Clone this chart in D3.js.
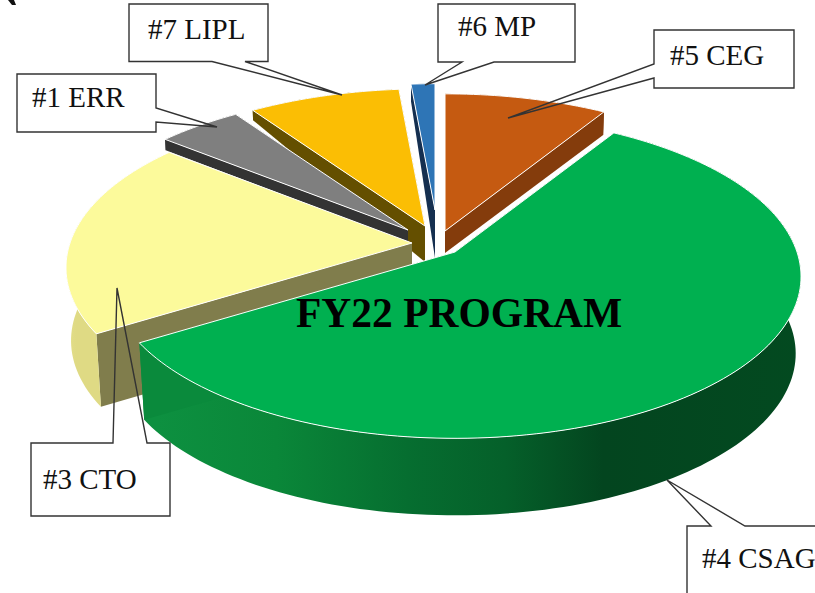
<!DOCTYPE html>
<html>
<head>
<meta charset="utf-8">
<script src="https://cdn.jsdelivr.net/npm/d3@7"></script>
<style>
  html, body { margin: 0; padding: 0; background: #fff; }
  svg { display: block; }
  text { font-family: "Liberation Serif", serif; fill: #111; }
</style>
</head>
<body>
<svg id="chart"></svg>
<script>
// share of the FY22 program, clockwise from 12 o'clock
const programs = ["#5 CEG", "#4 CSAG", "#3 CTO", "#1 ERR", "#7 LIPL", "#6 MP"];
const shares = [8.8, 57.4, 19.7, 4.6, 8.2, 1.4];

const WIDTH = 815;
const HEIGHT = 593;

// projection of the pie disc
const CENTER_X = 442;
const CENTER_Y = 241;
const RADIUS_X = 342;
const RADIUS_Y = 158;
const TILT = 0.152;

// per slice look, same order as programs
const topColors = ["#c55a11", "#00b050", "#fcfa9b", "#7f7f7f", "#fbbe04", "#2e75b6"];
const wallColors = ["#843c0c", "#0a8a3c", "#807d4c", "#333333", "#644f00", "#152f50"];
const rimColors = ["#843c0c", "url(#greenRim)", "url(#yellowRim)", "#333333", "#644f00", "#152f50"];
const shiftX = [3, 13, -30, -34, -17, -7];
const shiftY = [-10, 11, 2, -11, -15, -31];
const radiusScale = [1, 1, 1, 1, 1, 0.91];
const depthOuter = [23, 77, 73, 11, 10, 18];
const depthInner = [22, 77, 73, 12, 36, 48];
const drawOrder = [0, 5, 4, 3, 2, 1];

const calloutPaths = [
    "M17,74H156V108L217,127L156,122V132H17Z",
    "M129,4H268V61.5H245L342,95L212,61.5H129Z",
    "M438,4H575V62H494L425,85L462,62H438Z",
    "M654,30H794V88H654V78L508,118L654,64Z",
    "M31,443H113L117,288L147,443H170V516H31Z",
    "M687,526H711L667,480L745,526H830V610H687Z"
];
const labelX = [670, 702, 43, 32, 148, 458];
const labelY = [65, 568, 489, 107, 39, 36];

const svg = d3.select("#chart").attr("width", WIDTH).attr("height", HEIGHT);

const defs = svg.append("defs");
const greenRim = defs.append("linearGradient")
    .attr("id", "greenRim")
    .attr("gradientUnits", "userSpaceOnUse")
    .attr("x1", 145).attr("x2", 800).attr("y1", 0).attr("y2", 0);
[[0, "#0d9040"], [0.18, "#0a8739"], [0.38, "#066e30"], [0.53, "#05602a"], [0.68, "#03451f"], [1, "#034a20"]]
    .forEach(s => greenRim.append("stop").attr("offset", s[0]).attr("stop-color", s[1]));
const yellowRim = defs.append("linearGradient")
    .attr("id", "yellowRim")
    .attr("gradientUnits", "userSpaceOnUse")
    .attr("x1", 68).attr("x2", 106).attr("y1", 0).attr("y2", 0);
[[0, "#f3ef9c"], [1, "#dfda84"]]
    .forEach(s => yellowRim.append("stop").attr("offset", s[0]).attr("stop-color", s[1]));

const pie = d3.pie().sort(null).value(d => d);
const arcs = pie(shares);

function project(angle, r) {
    const x = r * Math.sin(angle);
    const y = -r * Math.cos(angle);
    const w = 1 - TILT * y;
    return [CENTER_X + RADIUS_X * x / w, CENTER_Y + RADIUS_Y * y / w];
}

// point on the lower face: pushed down and pulled in a little toward the middle
function lower(p, depth) {
    return [CENTER_X + (p[0] - CENTER_X) * (1 - depth * 0.0002), p[1] + depth];
}

const line = d3.line();

function rimPoints(d, r) {
    const steps = Math.max(4, Math.ceil((d.endAngle - d.startAngle) * 40));
    return d3.range(steps + 1).map(i => project(d.startAngle + (d.endAngle - d.startAngle) * i / steps, r));
}

const slices = svg.append("g").selectAll("g")
    .data(drawOrder)
    .join("g")
    .attr("transform", i => `translate(${shiftX[i]},${shiftY[i]})`);

slices.each(function(i) {
    const g = d3.select(this);
    const d = arcs[i];
    const apex = project(0, 0);
    const rim = rimPoints(d, radiusScale[i]);
    const first = rim[0];
    const last = rim[rim.length - 1];
    const apexLow = lower(apex, depthInner[i]);

    // back radial wall, then the outer wall, then the wall on the start side
    g.append("path")
        .attr("d", line([apex, first, lower(first, depthOuter[i]), apexLow]) + "Z")
        .attr("fill", wallColors[i]);
    g.append("path")
        .attr("d", line(rim.concat(rim.map(p => lower(p, depthOuter[i])).reverse())) + "Z")
        .attr("fill", rimColors[i]);
    g.append("path")
        .attr("d", line([apex, last, lower(last, depthOuter[i]), apexLow]) + "Z")
        .attr("fill", wallColors[i]);
    g.append("path")
        .attr("d", line([apex].concat(rim)) + "Z")
        .attr("fill", topColors[i])
        .attr("stroke", "#fff")
        .attr("stroke-width", 1)
        .attr("stroke-linejoin", "round");
});

svg.append("text")
    .attr("x", 296)
    .attr("y", 327)
    .attr("font-size", 41.5)
    .attr("font-weight", "bold")
    .style("fill", "#000")
    .text("FY22 PROGRAM");

svg.append("g").selectAll("path")
    .data(calloutPaths)
    .join("path")
    .attr("d", d => d)
    .attr("fill", "none")
    .attr("stroke", "#333")
    .attr("stroke-width", 1.4);

svg.append("g").selectAll("text")
    .data(programs)
    .join("text")
    .attr("x", (_, i) => labelX[i])
    .attr("y", (_, i) => labelY[i])
    .attr("font-size", 29)
    .text(d => d);

// sliver of a cropped glyph in the top left corner of the source picture
svg.append("path")
    .attr("d", "M8,0H14L16,5H12Z")
    .attr("fill", "#111");
</script>
</body>
</html>
